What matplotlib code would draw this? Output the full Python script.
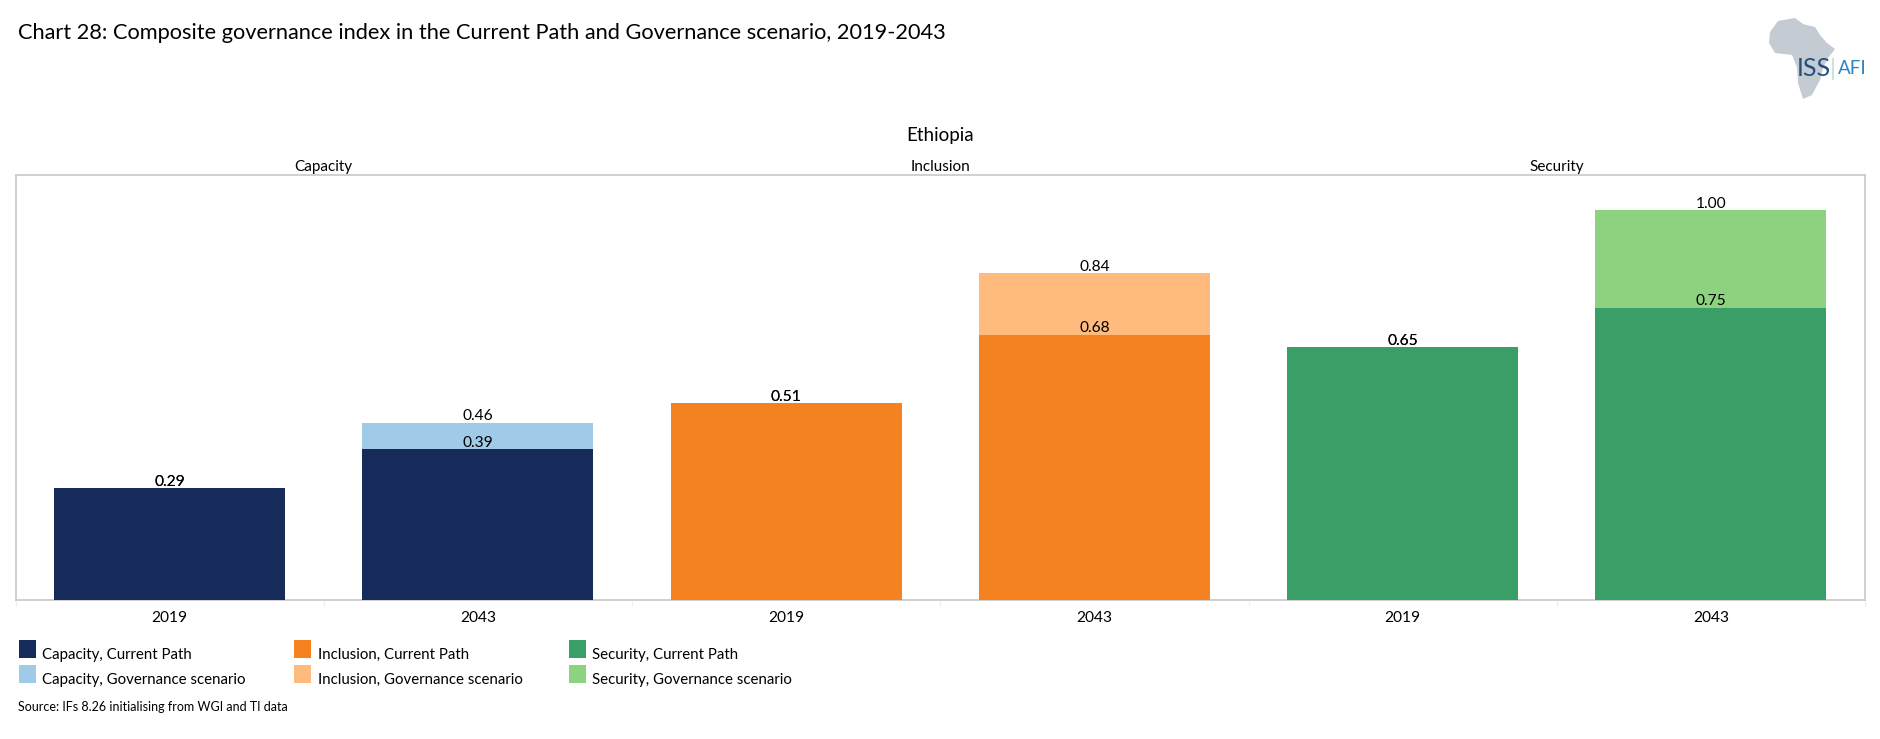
import numpy as np
import matplotlib
matplotlib.use('Agg')
import matplotlib.pyplot as plt
from matplotlib.patches import Polygon, Rectangle

plt.rcParams['font.family'] = ['Lato', 'DejaVu Sans']

W, H = 1880, 739

# data, heights (labels show them to 2 decimals)
years = ['2019', '2043', '2019', '2043', '2019', '2043']
groups = ['Capacity', 'Inclusion', 'Security']
current_path = [0.287, 0.387, 0.505, 0.68, 0.648, 0.75]
governance = [0.287, 0.455, 0.505, 0.838, 0.648, 1.00]
colors_current = ['#172B5A', '#172B5A', '#F58220', '#F58220', '#399F66', '#399F66']
colors_gov = ['#9FCBE9', '#9FCBE9', '#FFBB7E', '#FFBB7E', '#8DD27F', '#8DD27F']
legend_current = ['Capacity, Current Path', 'Inclusion, Current Path', 'Security, Current Path']
legend_gov = ['Capacity, Governance scenario', 'Inclusion, Governance scenario', 'Security, Governance scenario']


def fx(px):
    return px / W


def fy(px):
    return 1 - px / H


fig = plt.figure(figsize=(18.8, 7.39), dpi=100, facecolor='white')

# main axes
ax = fig.add_axes([fx(15.5), fy(600), (1865 - 15.5) / W, (600 - 174.5) / H])
x = np.arange(len(years))
bars_gov = ax.bar(x, governance, width=0.75, color=colors_gov, zorder=2)
bars_cur = ax.bar(x, current_path, width=0.75, color=colors_current, zorder=3)
ax.bar_label(bars_gov, fmt='%.2f', padding=-0.5, fontsize=11.2, color='black', zorder=4)
ax.bar_label(bars_cur, fmt='%.2f', padding=-0.5, fontsize=11.2, color='black', zorder=4)

ax.set_xlim(-0.5, 5.5)
ax.set_ylim(0, 425.5 / 390)
ax.set_yticks([])
ax.set_xticks(x)
ax.set_xticklabels(years, fontsize=11.2, color='black')
ax.set_xticks(np.arange(-0.5, 6), minor=True)
ax.tick_params(axis='x', which='major', length=0, pad=8)
ax.tick_params(axis='x', which='minor', length=4, color='#F0F0F0', width=1)
for s in ax.spines.values():
    s.set_color('#C8C8C8')
    s.set_linewidth(1.2)

# titles
fig.text(fx(18), fy(33), 'Chart 28: Composite governance index in the Current Path and Governance scenario, 2019-2043',
         fontsize=15.66, va='center', ha='left', color='black')
fig.text(fx(940), fy(136), 'Ethiopia', fontsize=13.5, va='center', ha='center', color='black')
for name, cx in zip(groups, [323, 940, 1557]):
    fig.text(fx(cx), fy(167), name, fontsize=11, va='center', ha='center', color='black')

# legend
for col, (sx, tx) in enumerate([(19, 42.5), (294, 318), (569, 592.5)]):
    fig.add_artist(Rectangle((fx(sx), fy(658)), 17 / W, 18 / H, transform=fig.transFigure,
                             color=colors_current[col * 2], lw=0))
    fig.add_artist(Rectangle((fx(sx), fy(683)), 17 / W, 18 / H, transform=fig.transFigure,
                             color=colors_gov[col * 2], lw=0))
    fig.text(fx(tx), fy(655), legend_current[col], fontsize=10.8, va='center', ha='left', color='black')
    fig.text(fx(tx), fy(680), legend_gov[col], fontsize=10.8, va='center', ha='left', color='black')

fig.text(fx(18), fy(707), 'Source: IFs 8.26 initialising from WGI and TI data', fontsize=9,
         va='center', ha='left', color='black')

# logo, traced by eye in pixel coordinates
logo = fig.add_axes([0, 0, 1, 1], zorder=5)
logo.set_xlim(0, W)
logo.set_ylim(H, 0)
logo.axis('off')
africa = [(1778, 21), (1795, 18), (1803, 24), (1815, 27), (1820, 35), (1827, 43), (1835, 49), (1828, 58),
          (1823, 68), (1820, 80), (1812, 95), (1803, 99), (1798, 83), (1797, 67), (1792, 55),
          (1775, 53), (1769, 43), (1770, 32)]
logo.add_patch(Polygon(africa, closed=True, facecolor='#C5CBD3', edgecolor='none'))
logo.text(1797, 69, 'ISS', fontsize=18, color='#23507F', va='center', ha='left')
logo.plot([1833, 1833], [59, 79], color='#CDE3D8', lw=1.5)
logo.text(1838, 69, 'AFI', fontsize=13.5, color='#2E86C1', va='center', ha='left')

fig.savefig('out.png', dpi=100, facecolor='white')
